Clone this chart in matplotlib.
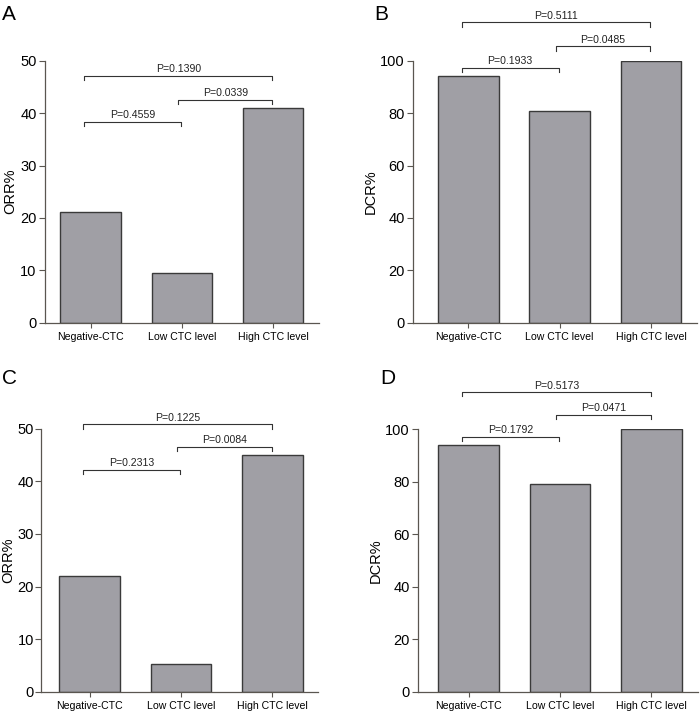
import matplotlib
matplotlib.use("Agg")
import matplotlib.pyplot as plt

plt.rcParams['font.family'] = ['Liberation Sans', 'DejaVu Sans']

categories = ["Negative-CTC", "Low CTC level", "High CTC level"]

orr_a = [21.2, 9.5, 40.9]
dcr_b = [94.0, 81.0, 100.0]
orr_c = [22.0, 5.3, 45.0]
dcr_d = [94.0, 79.0, 100.0]

# brackets: (left group, right group, height, label)
brackets_a = [(0, 1, 38.3, "P=0.4559"), (1, 2, 42.6, "P=0.0339"), (0, 2, 47.1, "P=0.1390")]
brackets_b = [(0, 1, 97.2, "P=0.1933"), (1, 2, 105.5, "P=0.0485"), (0, 2, 114.6, "P=0.5111")]
brackets_c = [(0, 1, 42.2, "P=0.2313"), (1, 2, 46.6, "P=0.0084"), (0, 2, 50.8, "P=0.1225")]
brackets_d = [(0, 1, 97.2, "P=0.1792"), (1, 2, 105.6, "P=0.0471"), (0, 2, 114.2, "P=0.5173")]

bar_color = '#a09fa5'
edge_color = '#3a3a3a'
spine_color = '#5a5650'

fig = plt.figure(figsize=(7.0, 7.12), dpi=100)

panels = [
    # rect, xlim, values, ylim, yticks, ylabel, brackets, letter, letter pos, tick pad
    ([0.0643, 0.5468, 0.391, 0.3679], (-0.5, 2.5), orr_a, 50, range(0, 51, 10), "ORR%", brackets_a, "A", (0.003, 0.993), 2),
    ([0.5904, 0.5468, 0.405, 0.3679], (-0.6, 2.5), dcr_b, 100, range(0, 101, 20), "DCR%", brackets_b, "B", (0.535, 0.993), 2),
    ([0.0586, 0.0285, 0.396, 0.3694], (-0.53, 2.5), orr_c, 50, range(0, 51, 10), "ORR%", brackets_c, "C", (0.003, 0.482), 1),
    ([0.5976, 0.0285, 0.3996, 0.3685], (-0.55, 2.51), dcr_d, 100, range(0, 101, 20), "DCR%", brackets_d, "D", (0.543, 0.482), 2),
]

for rect, xl, vals, ytop, yt, ylab, brs, letter, lpos, tpad in panels:
    ax = fig.add_axes(rect)
    x = list(range(len(categories)))
    ax.bar(x, vals, width=0.665, color=bar_color, edgecolor=edge_color, linewidth=1.0, zorder=2)
    ax.set_xlim(*xl)
    ax.set_ylim(0, ytop)
    ax.set_yticks(list(yt))
    ax.set_xticks(x)
    ax.set_xticklabels(categories, fontsize=7.6)
    ax.tick_params(axis='y', labelsize=10.5, length=4, width=0.8, color=spine_color, pad=tpad)
    ax.tick_params(axis='x', length=3.5, width=0.8, color=spine_color, pad=3)
    ax.set_ylabel(ylab, fontsize=10.5, labelpad=2)
    for s in ['top', 'right']:
        ax.spines[s].set_visible(False)
    for s in ['left', 'bottom']:
        ax.spines[s].set_color(spine_color)
        ax.spines[s].set_linewidth(0.9)

    arm = ytop * 0.016
    for g1, g2, h, lab in brs:
        x1 = g1 - 0.07 if g1 == 0 else g1 - 0.04
        x2 = g2 - 0.01
        ax.plot([x1, x1, x2, x2], [h - arm, h, h, h - arm], color='#333333',
                linewidth=0.8, clip_on=False, zorder=3)
        ax.text((x1 + x2) / 2, h + ytop * 0.006, lab, ha='center', va='bottom',
                fontsize=7.6, color='#222222', clip_on=False)

    fig.text(lpos[0], lpos[1], letter, fontsize=15, ha='left', va='top')

fig.savefig("out.png", dpi=100)
